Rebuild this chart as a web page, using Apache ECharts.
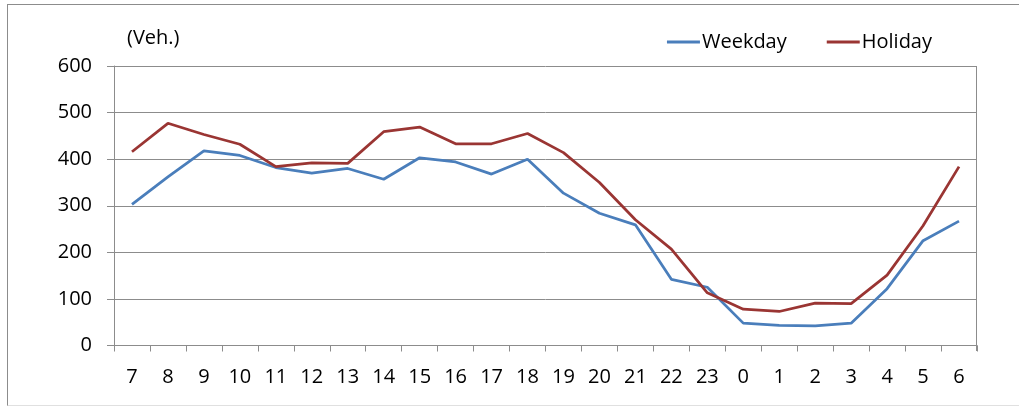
<!DOCTYPE html>
<html>
<head>
<meta charset="utf-8">
<script src="https://cdn.jsdelivr.net/npm/echarts@6/dist/echarts.min.js"></script>
<style>
html,body{margin:0;padding:0;background:#fff;}
#frame{position:absolute;left:7px;top:4px;width:1030px;height:402px;border-left:1px solid #8c8c8c;border-top:1px solid #8c8c8c;border-bottom:1px solid #e0e0e0;box-sizing:border-box;}
#chart{position:absolute;left:0;top:0;width:1019px;height:407px;}
</style>
</head>
<body>
<div id="frame"></div>
<div id="chart"></div>
<script>
var categories = ['7','8','9','10','11','12','13','14','15','16','17','18','19','20','21','22','23','0','1','2','3','4','5','6'];
var weekday = [303,362,418,408,382,370,380,357,403,394,368,400,327,284,259,142,125,48,43,42,48,122,225,267];
var holiday = [416,477,453,432,384,392,391,459,469,433,433,455,414,350,270,207,113,78,73,91,90,151,257,384];
var yTicks = {min:0, max:600, interval:100};

var FONT = '"Open Sans", sans-serif';
var FS = 20;
var chart = echarts.init(document.getElementById('chart'), null, {renderer:'canvas'});
chart.setOption({
  animation:false,
  textStyle:{fontFamily:FONT},
  grid:{left:114, right:42, top:66, bottom:61.5, show:false},
  legend:{
    right:82, top:27, icon:'rect', itemWidth:33, itemHeight:3, itemGap:40,
    textStyle:{fontFamily:FONT, fontSize:FS, color:'#000', padding:[0,0,0,-3]},
    data:['Weekday','Holiday']
  },
  graphic:[
    {type:'text', left:127, top:28, style:{text:'(Veh.)', fontFamily:FONT, fontSize:FS, fill:'#000'}},
    {type:'line', shape:{x1:976.5, y1:66, x2:976.5, y2:351}, style:{stroke:'#8c8c8c', lineWidth:1}}
  ],
  xAxis:{
    type:'category', data:categories, boundaryGap:true,
    axisLine:{lineStyle:{color:'#8c8c8c', width:1}},
    axisTick:{show:true, length:6, interval:0, lineStyle:{color:'#8c8c8c'}},
    axisLabel:{interval:0, fontFamily:FONT, fontSize:FS, color:'#000', margin:22}
  },
  yAxis:{
    type:'value', min:yTicks.min, max:yTicks.max, interval:yTicks.interval,
    axisLine:{show:true, lineStyle:{color:'#8c8c8c', width:1}},
    axisTick:{show:true, length:7, lineStyle:{color:'#8c8c8c'}},
    splitLine:{show:true, lineStyle:{color:'#8c8c8c', width:1}},
    axisLabel:{fontFamily:FONT, fontSize:FS, color:'#000', margin:22}
  },
  series:[
    {name:'Weekday', type:'line', data:weekday, symbol:'none', lineStyle:{color:'#4a7ebb', width:2.75}, itemStyle:{color:'#4a7ebb'}},
    {name:'Holiday', type:'line', data:holiday, symbol:'none', lineStyle:{color:'#9a3533', width:2.75}, itemStyle:{color:'#9a3533'}}
  ]
});
</script>
</body>
</html>
